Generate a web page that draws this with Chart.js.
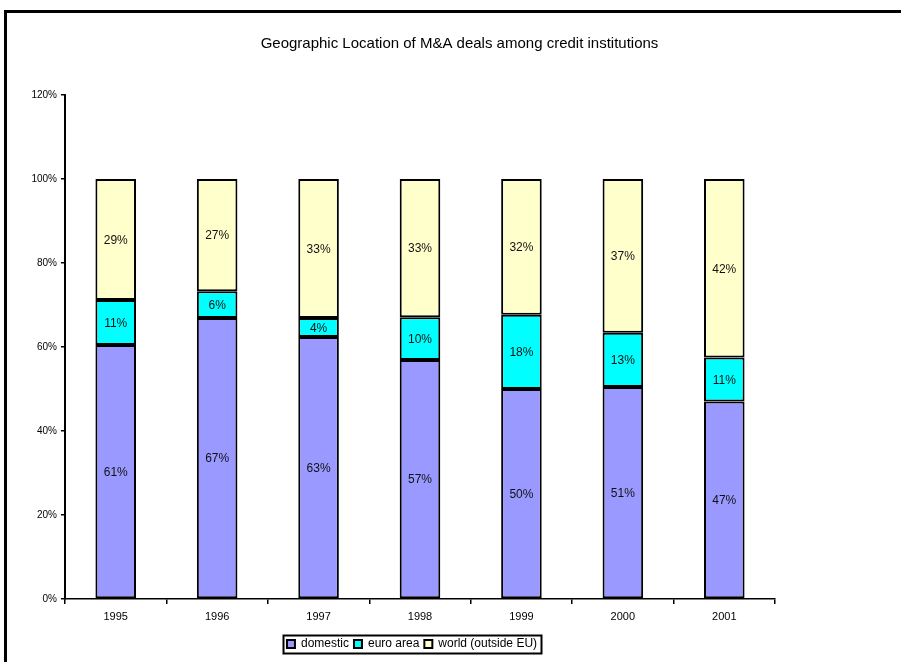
<!DOCTYPE html>
<html>
<head>
<meta charset="utf-8">
<script src="https://cdn.jsdelivr.net/npm/chart.js@4/dist/chart.umd.min.js"></script>
<style>
  html, body { margin: 0; padding: 0; background: #fff; }
  #wrap { position: relative; width: 901px; height: 662px; }
</style>
</head>
<body>
<div id="wrap"><canvas id="chart" width="901" height="662"></canvas></div>
<script>
'use strict';

// ─── Data ────────────────────────────────────────────────────────────────────
const years = ['1995', '1996', '1997', '1998', '1999', '2000', '2001'];

// segment heights as drawn (100% stacked)
const domestic  = [60.5, 66.9, 62.4, 56.9, 50.0, 50.5, 47.0];
const euroArea  = [10.7,  6.4,  4.5, 10.2, 17.7, 12.9, 10.5];
const world     = [28.8, 26.7, 33.1, 32.9, 32.3, 36.6, 42.5];

// printed data labels
const domesticLabels = ['61%', '67%', '63%', '57%', '50%', '51%', '47%'];
const euroLabels     = ['11%', '6%', '4%', '10%', '18%', '13%', '11%'];
const worldLabels    = ['29%', '27%', '33%', '33%', '32%', '37%', '42%'];

const yTicks = [0, 20, 40, 60, 80, 100, 120];

const FONT = "'Liberation Sans', Arial, sans-serif";

// ─── Frame lines (top + left) ────────────────────────────────────────────────
const framePlugin = {
  id: 'frame',
  beforeDraw(chart) {
    const ctx = chart.ctx;
    ctx.save();
    ctx.strokeStyle = '#000';
    ctx.lineWidth = 3;
    ctx.beginPath();
    ctx.moveTo(5.5, 662);
    ctx.lineTo(5.5, 11.5);
    ctx.lineTo(901, 11.5);
    ctx.stroke();
    ctx.restore();
  },
};

// ─── Centered segment labels ─────────────────────────────────────────────────
const segmentLabels = {
  id: 'segmentLabels',
  afterDatasetsDraw(chart) {
    const ctx = chart.ctx;
    const texts = [domesticLabels, euroLabels, worldLabels];
    ctx.save();
    ctx.font = '12px ' + FONT;
    ctx.fillStyle = '#111';
    ctx.textAlign = 'center';
    ctx.textBaseline = 'middle';
    chart.data.datasets.forEach((ds, di) => {
      const meta = chart.getDatasetMeta(di);
      meta.data.forEach((bar, i) => {
        ctx.fillText(texts[di][i], bar.x, (bar.y + bar.base) / 2 + 1);
      });
    });
    ctx.restore();
  },
};

// ─── Legend: nudge left a little, then box it ────────────────────────────────
const legendBox = {
  id: 'legendBox',
  afterLayout(chart) {
    if (!chart.legend) return;
    chart.legend.left  -= 8;
    chart.legend.right -= 8;
  },
  afterDraw(chart) {
    const boxes = chart.legend && chart.legend.legendHitBoxes;
    if (!boxes || !boxes.length) return;
    const left   = Math.min(...boxes.map(b => b.left)) - 4;
    const right  = Math.max(...boxes.map(b => b.left + b.width)) + 4;
    const top    = Math.min(...boxes.map(b => b.top)) - 3;
    const bottom = Math.max(...boxes.map(b => b.top + b.height)) + 3;
    const ctx = chart.ctx;
    ctx.save();
    ctx.strokeStyle = '#000';
    ctx.lineWidth = 2;
    ctx.strokeRect(Math.round(left) + 0.5, Math.round(top) + 0.5,
                   Math.round(right - left), Math.round(bottom - top));
    ctx.restore();
  },
};

// ─── Chart ───────────────────────────────────────────────────────────────────
function makeSet(label, data, color) {
  return {
    label,
    data,
    backgroundColor: color,
    borderColor:     '#000',
    borderWidth:     2,
    borderSkipped:   false,
    barPercentage:   0.4,
    categoryPercentage: 1,
  };
}

const ctx = document.getElementById('chart').getContext('2d');
new Chart(ctx, {
  type: 'bar',
  data: {
    labels: years,
    datasets: [
      makeSet('domestic', domestic, '#9999ff'),
      makeSet('euro area', euroArea, '#00ffff'),
      makeSet('world (outside EU)', world, '#ffffcc'),
    ],
  },
  options: {
    responsive: false,
    animation:  false,
    layout: { padding: { left: 18, right: 0, top: 0, bottom: 2 } },
    plugins: {
      tooltip: { enabled: false },
      title: {
        display: true,
        text:    'Geographic Location of M&A deals among credit institutions',
        color:   '#000',
        font:    { family: FONT, size: 15, weight: 'normal' },
        padding: { top: 35, bottom: 42 },
      },
      legend: {
        position: 'bottom',
        fullSize: false,
        labels: {
          color:     '#000',
          font:      { family: FONT, size: 12 },
          boxWidth:  8,
          boxHeight: 8,
          padding:   5,
        },
      },
    },
    scales: {
      x: {
        stacked: true,
        border: { color: '#000', width: 1.5 },
        grid: {
          offset: true,
          drawOnChartArea: false,
          color: '#000',
          lineWidth: 1.5,
          tickLength: 5,
        },
        ticks: { color: '#000', font: { family: FONT, size: 11 }, padding: 6 },
        afterFit(scale) { scale.height = 34; },
      },
      y: {
        stacked: true,
        min: 0,
        max: 120,
        border: { color: '#000', width: 2 },
        grid: {
          drawOnChartArea: false,
          color: '#000',
          lineWidth: 1.5,
          tickLength: 4,
        },
        afterBuildTicks(scale) { scale.ticks = yTicks.map(v => ({ value: v })); },
        ticks: {
          color: '#000',
          font: { family: FONT, size: 10 },
          padding: 4,
          callback: (v) => v + '%',
        },
        afterFit(scale) { scale.width = 47; },
      },
      // empty right-hand spacer keeps the plot at the reference width
      spacer: {
        position: 'right',
        display:  true,
        ticks:  { display: false },
        grid:   { display: false },
        border: { display: false },
        afterFit(scale) { scale.width = 126; },
      },
    },
  },
  plugins: [framePlugin, segmentLabels, legendBox],
});
</script>
</body>
</html>
